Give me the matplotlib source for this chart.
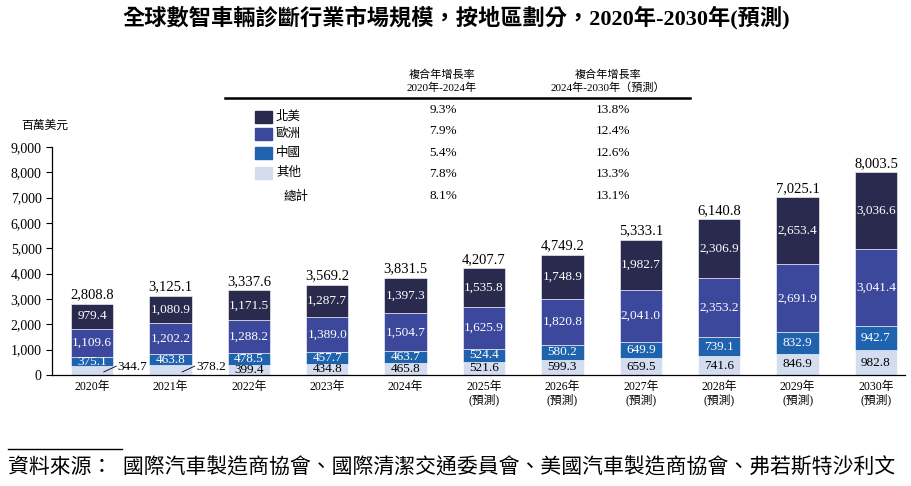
import numpy as np
import matplotlib
matplotlib.use("Agg")
import matplotlib.pyplot as plt
from matplotlib.patches import Rectangle

plt.rcParams['font.family'] = ['Liberation Serif', 'Noto Sans CJK TC']

# 數據
years = ['2020年', '2021年', '2022年', '2023年', '2024年', '2025年', '2026年',
         '2027年', '2028年', '2029年', '2030年']
forecast = [False] * 5 + [True] * 6
north_america = [979.4, 1080.9, 1171.5, 1287.7, 1397.3, 1535.8, 1748.9, 1982.7, 2306.9, 2653.4, 3036.6]
europe = [1109.6, 1202.2, 1288.2, 1389.0, 1504.7, 1625.9, 1820.8, 2041.0, 2353.2, 2691.9, 3041.4]
china = [375.1, 463.8, 478.5, 457.7, 463.7, 524.4, 580.2, 649.9, 739.1, 832.9, 942.7]
others = [344.7, 378.2, 399.4, 434.8, 465.8, 521.6, 599.3, 659.5, 741.6, 846.9, 982.8]
totals = [2808.8, 3125.1, 3337.6, 3569.2, 3831.5, 4207.7, 4749.2, 5333.1, 6140.8, 7025.1, 8003.5]

regions = ['北美', '歐洲', '中國', '其他']
cagr_2020_2024 = ['9.3%', '7.9%', '5.4%', '7.8%', '8.1%']
cagr_2024_2030 = ['13.8%', '12.4%', '12.6%', '13.3%', '13.1%']

colors = {'北美': '#2a2a4e', '歐洲': '#3b489c', '中國': '#1f62ae', '其他': '#d4ddef'}

W, H = 912, 486
fig = plt.figure(figsize=(W / 100, H / 100), dpi=100)


def fx(px):
    return px / W


def fy(py):
    return 1 - py / H


ax = fig.add_axes([fx(52), fy(375), fx(905) - fx(52), fy(147) - fy(375)])

x = np.arange(len(years))
width = 0.54
series = [('其他', others), ('中國', china), ('歐洲', europe), ('北美', north_america)]
bottom = np.zeros(len(years))
for name, vals in series:
    vals = np.array(vals)
    ax.bar(x, vals, width, bottom=bottom, color=colors[name], edgecolor='white', linewidth=0.4)
    for i, v in enumerate(vals):
        if name == '其他' and i < 2:
            # 小數值放在柱外，用引線標示
            ax.plot([x[i] + 0.15, x[i] + 0.31], [120, 350], color='black', lw=0.6)
            ax.text(x[i] + 0.33, 330, f'{v:,.1f}', ha='left', va='center', fontsize=9.5)
            continue
        tc = 'black' if name == '其他' else 'white'
        ax.text(x[i], bottom[i] + v / 2, f'{v:,.1f}', ha='center', va='center',
                fontsize=9.5, color=tc)
    bottom += vals

for i, t in enumerate(totals):
    ax.text(x[i], t + 90, f'{t:,.1f}', ha='center', va='bottom', fontsize=10.5)

ax.set_xlim(-0.51, 10.37)
ax.set_ylim(0, 9000)
ax.set_yticks(np.arange(0, 9001, 1000))
ax.set_yticklabels([f'{v:,}' for v in range(0, 9001, 1000)], fontsize=10)
ax.set_xticks(x)
ax.set_xticklabels([y + ('\n(預測)' if f else '') for y, f in zip(years, forecast)],
                   fontsize=8.5, linespacing=1.1)
ax.tick_params(axis='x', length=0, pad=4)
ax.tick_params(axis='y', length=4, width=0.8, direction='out')
for s in ['top', 'right']:
    ax.spines[s].set_visible(False)
ax.spines['left'].set_linewidth(0.9)
ax.spines['bottom'].set_linewidth(0.9)

fig.text(fx(45), fy(126), '百萬美元', ha='center', va='center', fontsize=8.5)

# 標題
fig.text(0.5, fy(18), '全球數智車輛診斷行業市場規模，按地區劃分，2020年-2030年(預測)',
         ha='center', va='center', fontsize=16, fontweight='bold')

# 複合年增長率表
fig.text(fx(442), fy(75), '複合年增長率', ha='center', va='center', fontsize=8)
fig.text(fx(442), fy(88), '2020年-2024年', ha='center', va='center', fontsize=8)
fig.text(fx(608), fy(75), '複合年增長率', ha='center', va='center', fontsize=8)
fig.text(fx(608), fy(88), '2024年-2030年（預測）', ha='center', va='center', fontsize=8)
fig.add_artist(plt.Line2D([fx(225), fx(690)], [fy(98), fy(98)], color='black', lw=1.8))

row_y = [110, 131, 153, 174, 196]
patch_y = [117, 134, 153, 173]
for name, py in zip(regions, patch_y):
    fig.add_artist(Rectangle((fx(255), fy(py + 6)), fx(17), 12 / H, color=colors[name]))
    fig.text(fx(276), fy(py), name, ha='left', va='center', fontsize=9)
fig.text(fx(284), fy(197), '總計', ha='left', va='center', fontsize=9)
for py, a, b in zip(row_y, cagr_2020_2024, cagr_2024_2030):
    fig.text(fx(443), fy(py), a, ha='center', va='center', fontsize=9.5)
    fig.text(fx(613), fy(py), b, ha='center', va='center', fontsize=9.5)

# 資料來源
fig.add_artist(plt.Line2D([fx(8), fx(122)], [fy(449), fy(449)], color='black', lw=1))
fig.text(fx(8), fy(468),
         '資料來源：  國際汽車製造商協會、國際清潔交通委員會、美國汽車製造商協會、弗若斯特沙利文',
         ha='left', va='center', fontsize=15, style='italic')

fig.savefig('out.png', dpi=100)
